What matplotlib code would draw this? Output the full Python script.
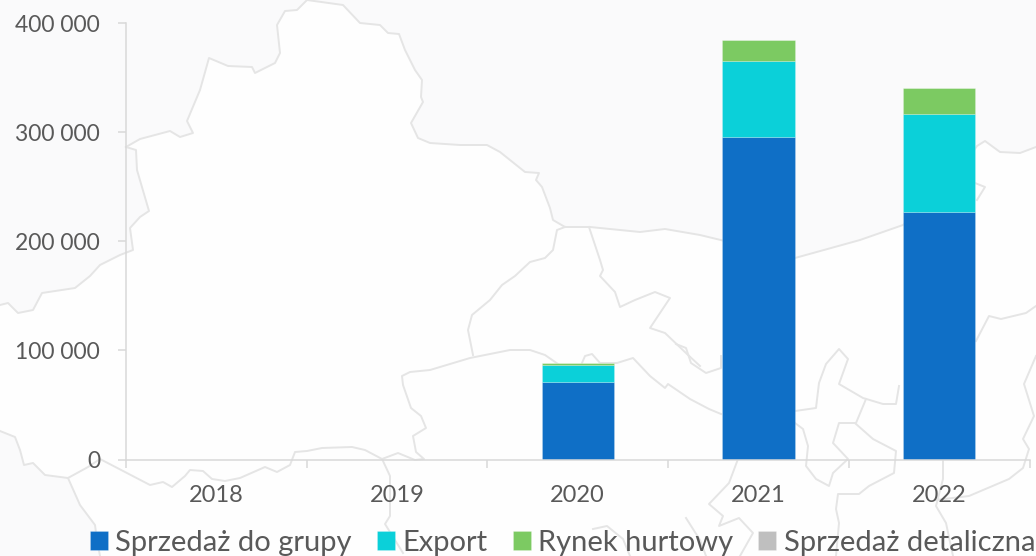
import matplotlib
matplotlib.use("Agg")
import matplotlib.pyplot as plt
from matplotlib.ticker import FuncFormatter, FixedLocator
from matplotlib.patches import Polygon
import numpy as np

plt.rcParams['font.family'] = ['Lato', 'DejaVu Sans']

years = ['2018', '2019', '2020', '2021', '2022']
grupa = [0, 0, 71000, 295500, 227000]
export = [0, 0, 16000, 70000, 89500]
hurt = [0, 0, 1500, 18500, 24000]
detal = [0, 0, 0, 0, 0]
names = ['Sprzedaż do grupy', 'Export', 'Rynek hurtowy', 'Sprzedaż detaliczna']
colors = ['#0F6FC6', '#0BD0D9', '#7CCA62', '#BFBFBF']
yticks = [0, 100000, 200000, 300000, 400000]

# decorative background map outlines (pixel space of the picture)
north_border = [(126,147),(140,139),(170,131),(180,137),(193,133),(187,121),(200,90),(209,58),(228,66),(252,67),(255,73),(275,63),(280,53),(277,25),(285,11),(297,10),(307,0),
                (343,5),(360,23),(380,25),(388,33),(399,34),(405,50),(415,70),(422,80),(421,97),(423,102),(411,123),(418,138),(430,143),(460,145),(487,145),(500,152),(525,172),(539,173),(536,180),(542,187),(550,208),(553,220),(565,227),
                (590,227),(640,232),(665,229),(700,235),(795,258),(860,240),(903,225),(950,185),(977,146),(985,141),(1000,152),(1020,153),(1036,147)]
west_border = [(126,147),(136,150),(137,170),(149,211),(140,217),(130,228),(133,250),(120,255),(100,265),(90,276),(75,288),(42,293),(33,310),(18,313),(8,303),(0,305)]
south_line = [(0,431),(15,437),(20,450),(24,465),(33,463),(45,475),(68,478),(88,467),(100,459),(125,472),(150,485),(163,482),(172,487),(185,476),(190,470),(203,471),(212,479),(225,481),(240,478),(265,467),(277,472),(290,465),(295,452),(307,451),(322,448),(352,447),(365,450),(382,459),(398,453),(415,460),(424,459),(416,452),(413,436),(426,428),(421,416),(411,408),(403,385),(402,376),(410,372),(430,370),(470,358),(510,350),(530,350),(545,355),(558,364)]
others = [
    [(68,478),(80,505),(95,525),(97,540),(100,556)],
    [(473,355),(468,330),(472,315),(490,300),(502,285),(515,276),(530,262),(545,258),(553,250),(557,230),(565,227)],
    [(589,227),(600,260),(603,270),(600,276),(615,292),(620,307),(635,300),(655,292),(670,298),(650,328),(665,333),(687,354),(700,366)],
    [(676,344),(686,348),(691,363),(706,373),(721,368),(721,356)],
    [(582,363),(585,356),(592,354),(600,363),(617,363),(633,358),(650,376),(665,388),(668,384),(690,399),(709,409),(721,414)],
    [(795,411),(816,408),(819,383),(826,364),(839,349),(848,359),(839,384),(863,398),(883,404),(896,404),(899,386)],
    [(866,399),(856,423),(839,423),(833,443),(848,459),(833,473),(829,486),(816,479),(806,466),(808,446),(803,429),(795,423)],
    [(856,424),(873,439),(896,451),(894,473),(869,486),(859,494),(838,494),(836,509),(839,523),(836,556)],
    [(943,459),(943,479),(936,506),(946,523),(953,556)],
    [(936,500),(969,496),(1009,479),(1023,468),(1029,449),(1023,439),(1034,416),(1024,384),(1036,356)],
    [(976,341),(989,316),(1001,319),(1026,313),(1036,306)],
    [(738,459),(729,483),(709,504),(723,516),(719,526),(739,518),(753,533),(740,556)],
    [(686,518),(700,540),(706,556)],
    [(383,461),(390,476),(390,516),(385,524),(403,553)],
    [(593,529),(607,526),(623,539),(630,556)],
    [(975,183),(985,187),(977,200)],
]

fig = plt.figure(figsize=(10.36, 5.56), dpi=100, facecolor='#FEFEFE')
W, H = 1036, 556

bg = fig.add_axes([0, 0, 1, 1], zorder=0)
bg.set_xlim(0, W)
bg.set_ylim(H, 0)
bg.axis('off')
top_region = [(0, 0)] + [(W, 0)] + north_border[::-1] + west_border[1:]
bg.add_patch(Polygon(top_region, closed=True, fc='#FAFAFB', ec='none'))
bg.add_patch(Polygon([(0, H)] + south_line[:7] + others[0], closed=True, fc='#FAFAFB', ec='none'))
for seg in [north_border, west_border, south_line] + others:
    xs, ys = zip(*seg)
    bg.plot(xs, ys, color='#E5E5E5', lw=1.4, solid_joinstyle='round', zorder=1)

ax = fig.add_axes([125.8 / W, (H - 459.5) / H, (1029.5 - 125.8) / W, (459.5 - 23) / H], zorder=2)
ax.patch.set_alpha(0)
x = np.arange(len(years))
bottom = np.zeros(len(years))
handles = []
for vals, name, col in zip([grupa, export, hurt, detal], names, colors):
    v = np.array(vals, dtype=float)
    b = ax.bar(x, v, 0.4, bottom=bottom, color=col, label=name,
               edgecolor=(1, 1, 1, 0.2), linewidth=0.7)
    bottom += v
    handles.append(b)

ax.set_xlim(-0.5, 4.5)
ax.set_ylim(0, 400000)
ax.set_xticks(x)
ax.set_xticklabels(years)
ax.xaxis.set_minor_locator(FixedLocator(np.arange(-0.5, 5, 1)))
ax.set_yticks(yticks)
ax.yaxis.set_major_formatter(FuncFormatter(lambda v, p: f'{int(v):,}'.replace(',', ' ')))
for s in ('top', 'right'):
    ax.spines[s].set_visible(False)
for s in ('left', 'bottom'):
    ax.spines[s].set_color('#D9D9D9')
    ax.spines[s].set_linewidth(1.1)
ax.tick_params(axis='x', which='major', length=0, pad=18.5, labelsize=17, labelcolor='#595959')
ax.tick_params(axis='x', which='minor', length=6, width=1.1, color='#D9D9D9')
ax.tick_params(axis='y', length=6, width=1.1, color='#D9D9D9', pad=12.5, labelsize=16.5, labelcolor='#595959')

leg = fig.legend(handles=handles, labels=names, loc='lower left',
                 bbox_to_anchor=(90 / W, 0), ncol=4, frameon=False, fontsize=21,
                 labelcolor='#595959', handlelength=0.62, handleheight=0.62,
                 handletextpad=0.25, columnspacing=0.86, borderpad=0, borderaxespad=0)
fig.savefig('out.png', dpi=100, facecolor=fig.get_facecolor())
